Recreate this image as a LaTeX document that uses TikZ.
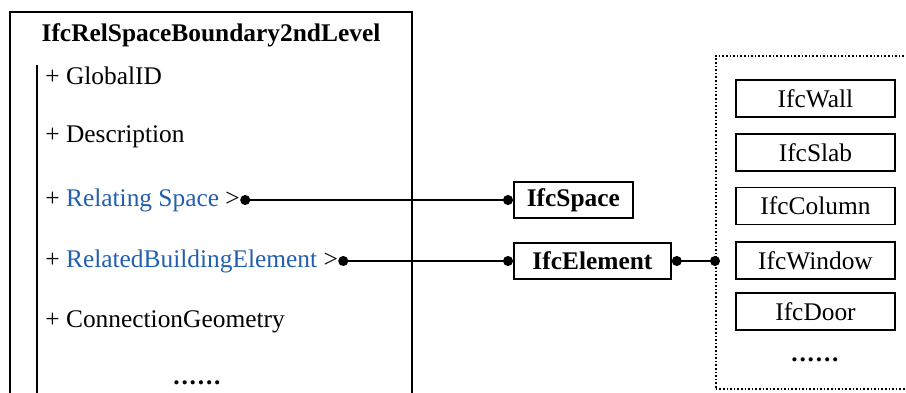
\documentclass[tikz,border=0pt]{standalone}
\usepackage{fontspec}
\setmainfont{Liberation Serif}
\usetikzlibrary{arrows.meta}
\definecolor{attrblue}{RGB}{35,95,175}
\newcommand{\moredots}{\textbf{.\kern0.9pt.\kern0.9pt.\kern0.9pt.\kern0.9pt.\kern0.9pt.}}
\begin{document}
\begin{tikzpicture}[x=0.5pt,y=-0.5pt,
		font=\fontsize{12.7}{15}\selectfont,
		ent/.style={draw=black, line width=0.9pt, inner sep=0pt, minimum height=18pt},
		attr/.style={anchor=west, inner sep=0pt},
		lnk/.style={line width=0.7pt, {Circle[length=5pt]}-{Circle[length=5pt]}}]
		\useasboundingbox (0,0) rectangle (906,392);
		\clip (0,0) rectangle (906,392);
		% class box
		\draw [line width=0.9pt] (10,420) -- (10,12) -- (412,12) -- (412,420);
		\draw [line width=0.9pt] (37,65) -- (37,420);
		\node (title) at (211,35) {\textbf{IfcRelSpaceBoundary2ndLevel}};
		\node [attr] (gid) at (45,76) {+ GlobalID};
		\node [attr] (desc) at (45,137) {+ Description};
		\node [attr] (rs) at (45,200) {+ \textcolor{attrblue}{Relating Space} >};
		\node [attr] (rbe) at (45,261) {+ \textcolor{attrblue}{RelatedBuildingElement} >};
		\node [attr] (geo) at (45,322) {+ ConnectionGeometry};
		\node (cdots) at (197,383) {\moredots};
		% referenced entities
		\node [ent, anchor=west, minimum width=59.5pt] (space) at (513,200) {\textbf{IfcSpace}};
		\node [ent, anchor=west, minimum width=78.5pt] (elem) at (513,261) {\textbf{IfcElement}};
		% subtypes of IfcElement
		\node [draw, densely dotted, line width=0.8pt, anchor=north west,
			minimum width=160pt, minimum height=166.5pt] (grp) at (715,55) {};
		\foreach \y/\n/\t in {98.5/wall/IfcWall, 152.5/slab/IfcSlab, 206/col/IfcColumn,
			260.5/win/IfcWindow, 311.5/door/IfcDoor}
			\node [ent, minimum width=79.5pt, minimum height=18.5pt] (\n) at (815.5,\y) {\t};
		\node (gdots) at (815,360) {\moredots};
		% links
		\draw [lnk] (rs.east) -- (space.west);
		\draw [lnk] (rbe.east) -- (elem.west);
		\draw [lnk, shorten >=-2.5pt] (elem.east) -- (grp.west |- elem.east);
\end{tikzpicture}
\end{document}
